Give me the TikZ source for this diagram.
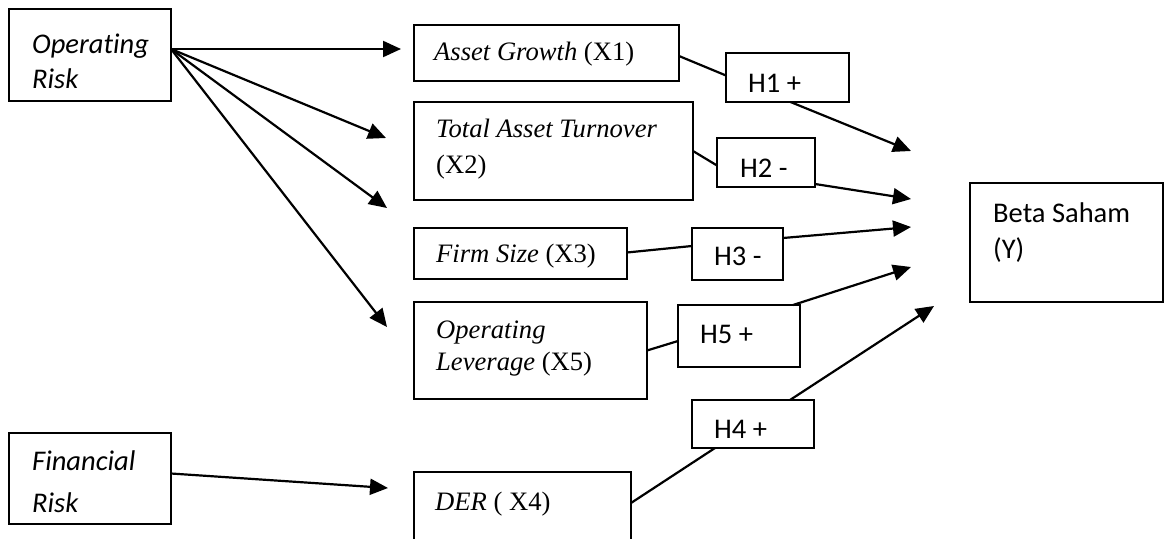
\documentclass[tikz,border=0pt]{standalone}
\usepackage{fontspec}
\setmainfont{Liberation Serif}
\newfontfamily\calfont[Ligatures=NoCommon]{Carlito}
\usetikzlibrary{arrows.meta,calc}
\begin{document}
\begin{tikzpicture}[x=1pt,y=-1pt,
  box/.style={draw,line width=1.8pt,inner sep=0pt,outer sep=0pt,anchor=north west},
  ct/.style={anchor=base west,inner sep=0pt,font=\calfont\fontsize{28.5}{35}\selectfont},
  tt/.style={anchor=base west,inner sep=0pt,font=\fontsize{26.6}{35}\selectfont},
  con/.style={line width=2.2pt},
  arr/.style={line width=2.2pt,-{Triangle[length=18pt,width=16pt]}},
  ]
\clip (0,0) rectangle (1164,538);
\fill[white] (0,0) rectangle (1164,538);
% boxes
\node[box,minimum width=162pt,minimum height=92pt] (or) at (9,9) {};
\node[box,minimum width=162pt,minimum height=91pt] (fr) at (9,433) {};
\node[box,minimum width=265pt,minimum height=56pt] (ag) at (414,25) {};
\node[box,minimum width=279pt,minimum height=98pt] (tat) at (414,102) {};
\node[box,minimum width=213pt,minimum height=51pt] (fs) at (414,228) {};
\node[box,minimum width=233pt,minimum height=97pt] (ol) at (414,302) {};
\node[box,minimum width=217pt,minimum height=90pt] (der) at (414,472) {};
\node[box,minimum width=123pt,minimum height=49pt] (h1) at (726,53) {};
\node[box,minimum width=98pt,minimum height=49pt] (h2) at (717,138) {};
\node[box,minimum width=91pt,minimum height=52pt] (h3) at (692,228) {};
\node[box,minimum width=122pt,minimum height=62pt] (h5) at (678,305) {};
\node[box,minimum width=122pt,minimum height=48pt] (h4) at (692,400) {};
\node[box,minimum width=193pt,minimum height=119pt] (y) at (970,183) {};
% texts
\node[ct] (t1) at (32,53) {\itshape Operating};
\node[ct] (t2) at (32,88) {\itshape Risk};
\node[ct] (t3) at (32,470) {\itshape Financial};
\node[ct] (t4) at (32,512) {\itshape Risk};
\node[tt] (t5) at (434,60) {\textit{Asset Growth} (X1)};
\node[tt] (t6) at (436,137) {\textit{Total Asset Turnover}};
\node[tt] (t7) at (436,173) {(X2)};
\node[tt] (t8) at (436,262) {\textit{Firm Size} (X3)};
\node[tt] (t9) at (436,338) {\textit{Operating}};
\node[tt] (t10) at (436,370) {\textit{Leverage} (X5)};
\node[tt] (t11) at (435,510) {\textit{DER} ( X4)};
\node[ct] (t12) at (993,222) {Beta Saham};
\node[ct] (t13) at (993,258) {(Y)};
\node[ct] (t14) at (748,92) {H1 +};
\node[ct] (t15) at (740,177) {H2 -};
\node[ct] (t16) at (714,265) {H3 -};
\node[ct] (t17) at (700,343) {H5 +};
\node[ct] (t18) at (714,438) {H4 +};
% free ends
\coordinate (p1) at (401,49);
\coordinate (p2) at (386,138);
\coordinate (p3) at (387,208);
\coordinate (p4) at (387,327);
\coordinate (p5) at (388,488);
\coordinate (q1) at (911,151);
\coordinate (q2) at (911,199);
\coordinate (q3) at (911,227);
\coordinate (q4) at (911,267);
\coordinate (q5) at (934,306);
\coordinate (o) at ($(or.east)+(0,-6)$);
% connectors
\draw[arr] (o) -- (p1);
\draw[arr] (o) -- (p2);
\draw[arr] (o) -- (p3);
\draw[arr] (o) -- (p4);
\draw[arr] ($(fr.east)+(0,-5)$) -- (p5);
\draw[con] ($(ag.east)+(0,3)$) -- ($(h1.west)+(0,-2)$);
\draw[arr] ($(h1.south)+(3,0)$) -- (q1);
\draw[con] (tat.east) -- ($(h2.west)+(0,3)$);
\draw[arr] ($(h2.south east)+(0,-3)$) -- (q2);
\draw[con] ($(fs.east)+(0,-1)$) -- ($(h3.west)+(0,-8)$);
\draw[arr] ($(h3.east)+(0,-16)$) -- (q3);
\draw[con] (ol.east) -- ($(h5.west)+(0,5)$);
\draw[arr] ($(h5.north east)+(-7,0)$) -- (q4);
\draw[con] ($(der.north east)+(0,31)$) -- ($(h4.south)+(-38,0)$);
\draw[arr] ($(h4.north)+(37,0)$) -- (q5);
\end{tikzpicture}
\end{document}
